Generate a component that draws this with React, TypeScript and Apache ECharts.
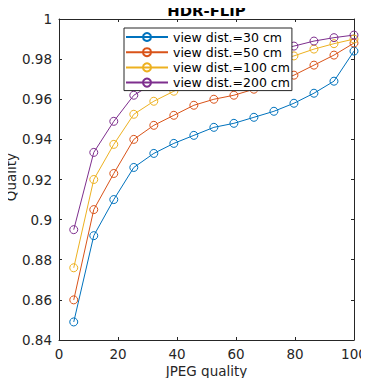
import React, { useEffect, useRef } from "react";
import * as echarts from "echarts";

const jpegQuality = [5, 11.79, 18.57, 25.36, 32.14, 38.93, 45.71, 52.5, 59.29, 66.07, 72.86, 79.64, 86.43, 93.21, 100];
const dist30 = [0.849, 0.892, 0.910, 0.926, 0.933, 0.938, 0.942, 0.946, 0.948, 0.951, 0.954, 0.958, 0.963, 0.969, 0.984];
const dist50 = [0.860, 0.905, 0.923, 0.940, 0.947, 0.952, 0.957, 0.960, 0.962, 0.965, 0.968, 0.972, 0.977, 0.982, 0.988];
const dist100 = [0.876, 0.920, 0.9375, 0.9525, 0.959, 0.964, 0.968, 0.971, 0.974, 0.977, 0.979, 0.9816, 0.985, 0.9877, 0.990];
const dist200 = [0.895, 0.9335, 0.949, 0.962, 0.968, 0.972, 0.975, 0.978, 0.980, 0.982, 0.984, 0.9865, 0.989, 0.9907, 0.992];
const seriesNames = ["view dist.=30 cm", "view dist.=50 cm", "view dist.=100 cm", "view dist.=200 cm"];
const seriesColors = ["#0072BD", "#D95319", "#EDB120", "#7E2F8E"];
const seriesValues = [dist30, dist50, dist100, dist200];
const titleText = "HDR-FLIP";
const xName = "JPEG quality";
const yName = "Quality";

const FONT = "'DejaVu Sans', sans-serif";
const AX = "#262626";
const FS = 13.5;

export default function App() {
  const ref = useRef<HTMLDivElement>(null);
  useEffect(() => {
    const chart = echarts.init(ref.current!, null, { renderer: "svg" });
    const axisCommon = {
      axisLine: { show: true, onZero: false, lineStyle: { color: AX, width: 1 } },
      axisTick: { show: true, inside: true, length: 3, lineStyle: { color: AX, width: 1 } },
      splitLine: { show: false },
    };
    chart.setOption({
      animation: false,
      graphic: [
        {
          type: "text",
          x: 206.5,
          y: 3.5,
          style: {
            text: titleText,
            align: "center",
            verticalAlign: "top",
            fontFamily: FONT,
            fontSize: 14.85,
            fontWeight: "bold",
            fill: "#000",
          },
        },
        {
          type: "text",
          x: 206.5,
          y: 364,
          style: {
            text: xName,
            align: "center",
            verticalAlign: "top",
            fontFamily: FONT,
            fontSize: FS,
            fill: AX,
          },
        },
        {
          type: "text",
          x: 4,
          y: 177,
          rotation: Math.PI / 2,
          style: {
            text: yName,
            align: "center",
            verticalAlign: "top",
            fontFamily: FONT,
            fontSize: FS,
            fill: AX,
          },
        },
      ],
      legend: {
        orient: "vertical",
        left: 124,
        top: 28,
        backgroundColor: "#fff",
        borderColor: AX,
        borderWidth: 1,
        borderRadius: 0,
        padding: [2, 2, 1, 1],
        itemWidth: 42,
        itemHeight: 10,
        itemGap: 1.2,
        textStyle: { fontFamily: FONT, fontSize: 12.5, color: "#000", lineHeight: 14 },
        data: seriesNames,
      },
      grid: { left: 59, right: 15, top: 19, bottom: 46, containLabel: false, outerBoundsMode: "none" },
      xAxis: [
        {
          type: "value",
          min: 0,
          max: 100,
          interval: 20,
          position: "bottom",
          axisLabel: { fontFamily: FONT, fontSize: FS, color: AX, margin: 7 },
          ...axisCommon,
        },
        {
          type: "value",
          min: 0,
          max: 100,
          interval: 20,
          position: "top",
          axisLabel: { show: false },
          ...axisCommon,
        },
      ],
      yAxis: [
        {
          type: "value",
          min: 0.84,
          max: 1,
          interval: 0.02,
          position: "left",
          axisLabel: { fontFamily: FONT, fontSize: FS, color: AX, margin: 7 },
          ...axisCommon,
        },
        {
          type: "value",
          min: 0.84,
          max: 1,
          interval: 0.02,
          position: "right",
          axisLabel: { show: false },
          ...axisCommon,
        },
      ],
      series: seriesNames.map((name, i) => ({
        name,
        type: "line",
        xAxisIndex: 0,
        yAxisIndex: 0,
        data: jpegQuality.map((x, j) => [x, seriesValues[i][j]]),
        symbol: "circle",
        symbolSize: 8,
        showSymbol: true,
        color: seriesColors[i],
        itemStyle: { color: "rgba(255,255,255,0)", borderColor: seriesColors[i], borderWidth: 1 },
        lineStyle: { color: seriesColors[i], width: 1 },
        emphasis: { disabled: true },
      })),
    });
    return () => chart.dispose();
  }, []);
  return <div ref={ref} style={{ width: 369, height: 386, margin: -8 }} />;
}
